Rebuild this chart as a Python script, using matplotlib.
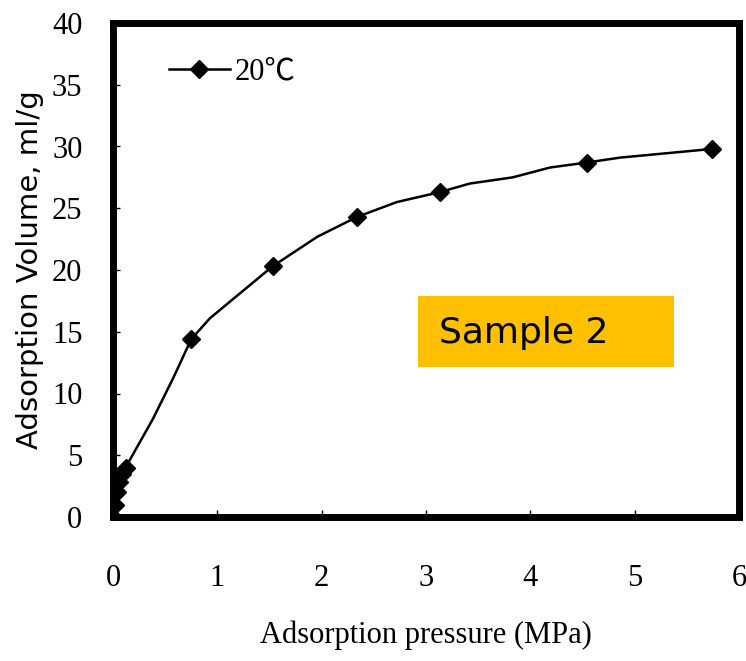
import matplotlib
matplotlib.use("Agg")
import matplotlib.pyplot as plt
from matplotlib.patches import Rectangle

# Measured points (markers)
pressure = [0.0, 0.02, 0.04, 0.06, 0.09, 0.12, 0.75, 1.53, 2.34, 3.13, 4.54, 5.74]
volume = [0.0, 1.0, 2.0, 2.8, 3.5, 4.0, 14.4, 20.3, 24.3, 26.3, 28.7, 29.8]

# Fitted curve
curve_p = [0.0, 0.06, 0.12, 0.38, 0.58, 0.75, 0.93, 1.53, 1.96, 2.34, 2.72,
           3.13, 3.42, 3.83, 4.19, 4.54, 4.86, 5.74]
curve_v = [0.0, 2.8, 4.0, 7.9, 11.3, 14.4, 16.1, 20.3, 22.7, 24.3, 25.5,
           26.3, 27.0, 27.5, 28.3, 28.7, 29.1, 29.8]

x_ticks = [0, 1, 2, 3, 4, 5, 6]
y_ticks = [0, 5, 10, 15, 20, 25, 30, 35, 40]

serif = ["Liberation Serif", "Noto Sans CJK SC", "DejaVu Sans"]

fig = plt.figure(figsize=(7.46, 6.61), dpi=100)
ax = fig.add_axes([113 / 746, 1 - 517 / 661, (739 - 113) / 746, (517 - 23) / 661])

ax.plot(curve_p, curve_v, color="black", lw=1.8, zorder=3)
ax.plot(pressure, volume, linestyle="none", marker="D", markersize=9,
        color="black", zorder=4)

ax.set_xlim(0, 6)
ax.set_ylim(0, 40)
ax.set_xticks(x_ticks)
ax.set_yticks(y_ticks)
ax.set_xticklabels([str(t) for t in x_ticks], family=serif, fontsize=22)
ax.set_yticklabels([str(t) for t in y_ticks], family=serif, fontsize=22)
ax.tick_params(direction="in", length=5, width=1)
ax.tick_params(axis="y", pad=22)
ax.tick_params(axis="x", pad=34)

for s in ax.spines.values():
    s.set_linewidth(5)
    s.set_color("black")

ax.set_xlabel("Adsorption pressure (MPa)", family=serif, fontsize=22, labelpad=20)
ax.set_ylabel("Adsorption Volume, ml/g", family="DejaVu Sans", fontsize=21, labelpad=6)

# Legend
leg_line, = ax.plot([], [], color="black", lw=1.8, marker="D", markersize=9)
leg = ax.legend([leg_line], ["20℃"], loc="upper left", frameon=False,
                bbox_to_anchor=(0.045, 0.985), handlelength=2.0, handletextpad=0.15,
                prop={"family": serif, "size": 22})

# Sample label box
fig.patches.append(Rectangle((418 / 746, 1 - 367 / 661), (674 - 418) / 746, (367 - 296) / 661,
                             transform=fig.transFigure, facecolor="#FFC000",
                             edgecolor="none", zorder=5))
fig.text(439 / 746, 1 - 333 / 661, "Sample 2", fontsize=26, family="DejaVu Sans",
         va="center", ha="left", color="black", zorder=6)

fig.savefig("out.png", dpi=100)
